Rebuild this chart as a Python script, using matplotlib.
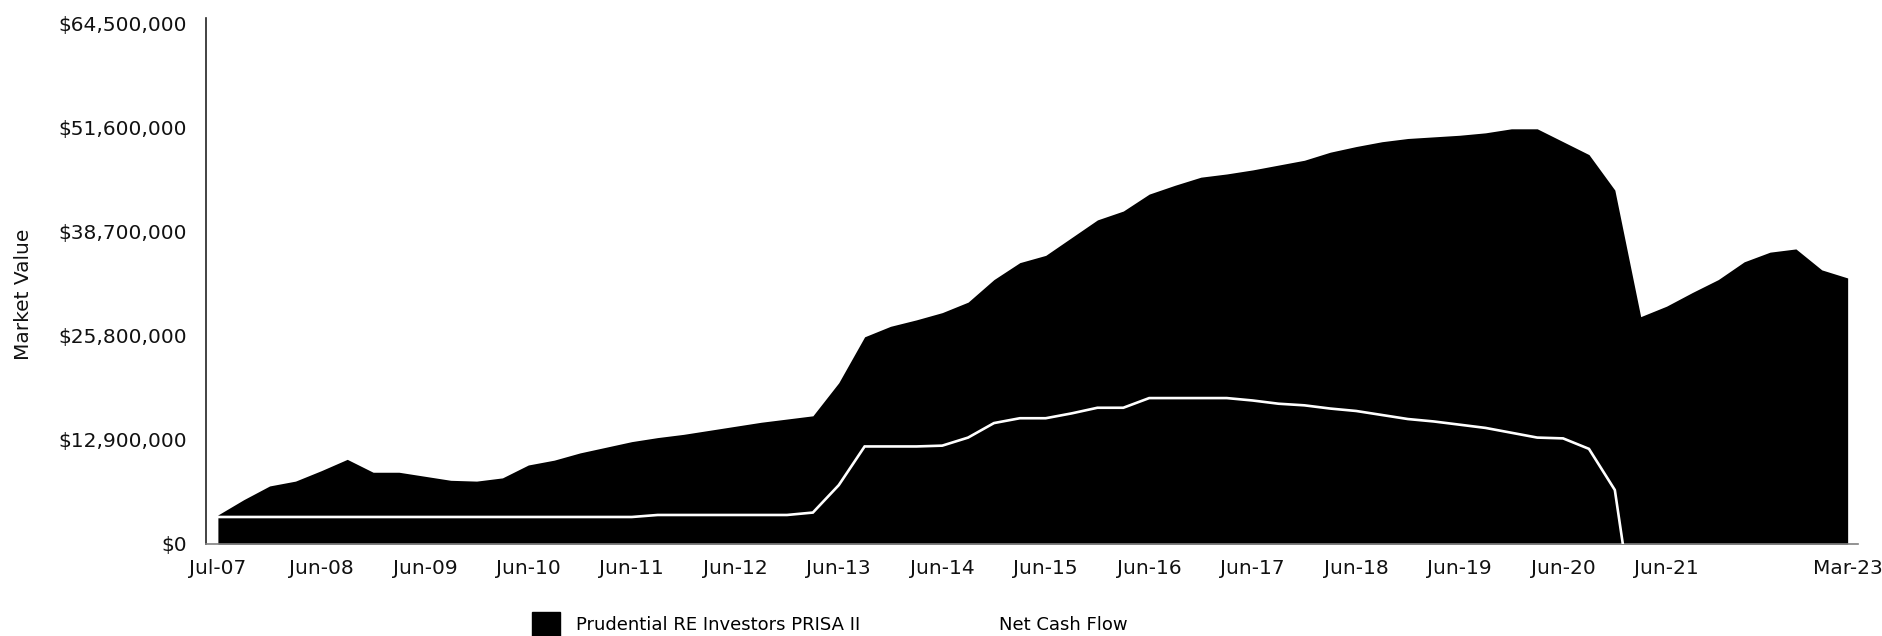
import numpy as np
import matplotlib
matplotlib.use("Agg")
import matplotlib.pyplot as plt
from matplotlib.ticker import FuncFormatter
from matplotlib.patches import Patch
from matplotlib.lines import Line2D

# ---------------- data ----------------
quarter_labels = ["Jul-07"]
for yy in range(7, 24):
    for mm in ["Mar", "Jun", "Sep", "Dec"]:
        if (yy == 7 and mm in ("Mar", "Jun")):
            continue
        if yy == 23 and mm != "Mar":
            continue
        quarter_labels.append(f"{mm}-{yy:02d}")

market_value_m = [
    3.6, 5.5, 7.2, 7.8, 9.1, 10.5, 8.9, 8.9, 8.4, 7.9,
    7.8, 8.2, 9.8, 10.4, 11.3, 12.0, 12.7, 13.2, 13.6, 14.1,
    14.6, 15.1, 15.5, 15.9, 20.0, 25.7, 27.0, 27.8, 28.7, 30.0,
    32.8, 34.9, 35.8, 38.0, 40.2, 41.3, 43.4, 44.5, 45.5, 45.9,
    46.4, 47.0, 47.6, 48.6, 49.3, 49.9, 50.3, 50.5, 50.7, 51.0,
    51.5, 51.5, 49.9, 48.3, 43.9, 28.2, 29.5, 31.2, 32.8, 35.0,
    36.2, 36.6, 34.0, 33.0,
]

net_cash_flow_m = [
    3.35, 3.35, 3.35, 3.35, 3.35, 3.35, 3.35, 3.35, 3.35, 3.35,
    3.35, 3.35, 3.35, 3.35, 3.35, 3.35, 3.35, 3.6, 3.6, 3.6,
    3.6, 3.6, 3.6, 3.9, 7.3, 12.1, 12.1, 12.1, 12.2, 13.2,
    15.0, 15.6, 15.6, 16.2, 16.9, 16.9, 18.1, 18.1, 18.1, 18.1,
    17.8, 17.4, 17.2, 16.8, 16.5, 16.0, 15.5, 15.2, 14.8, 14.4,
    13.8, 13.2, 13.1, 11.8, 6.7, -15.0,
]

x_tick_labels = ["Jul-07", "Jun-08", "Jun-09", "Jun-10", "Jun-11", "Jun-12",
                 "Jun-13", "Jun-14", "Jun-15", "Jun-16", "Jun-17", "Jun-18",
                 "Jun-19", "Jun-20", "Jun-21", "Mar-23"]
y_tick_values = [0, 12_900_000, 25_800_000, 38_700_000, 51_600_000, 64_500_000]

series_names = ["Prudential RE Investors PRISA II", "Net Cash Flow"]

# ---------------- plot ----------------
plt.rcParams['font.family'] = ['DejaVu Sans']

W, H = 1883, 636
fig = plt.figure(figsize=(W / 100, H / 100), dpi=100)
ax = fig.add_axes([206 / W, 92 / H, 1652 / W, 526 / H])

x = np.arange(len(quarter_labels))
mv = np.array(market_value_m) * 1e6
ncf = np.array(net_cash_flow_m) * 1e6

ax.fill_between(x, mv, 0, color="black", linewidth=0, zorder=2)
ax.plot(x[:len(ncf)], ncf, color="white", linewidth=1.9, zorder=3,
        solid_joinstyle="miter")

ax.set_xlim(-0.46, 63.4)
ax.set_ylim(0, 64_500_000 * 526 / 520)

tick_pos = [quarter_labels.index(l) for l in x_tick_labels]
ax.set_xticks(tick_pos)
ax.set_xticklabels(x_tick_labels)
ax.set_yticks(y_tick_values)
ax.yaxis.set_major_formatter(FuncFormatter(lambda v, p: "${:,.0f}".format(v)))

ax.tick_params(axis="both", length=0, labelsize=14.5, colors="#111111")
ax.tick_params(axis="y", pad=13.5)
ax.tick_params(axis="x", pad=10.5)

for s in ["top", "right"]:
    ax.spines[s].set_visible(False)
ax.spines["left"].set_color("#222222")
ax.spines["left"].set_linewidth(1.2)
ax.spines["bottom"].set_color("#808080")
ax.spines["bottom"].set_linewidth(1.2)

ax.set_ylabel("Market Value", fontsize=14.5, color="#111111")
ax.yaxis.set_label_coords(-0.105, 0.475)

handles = [Patch(facecolor="black", edgecolor="black"),
           Line2D([0], [0], color="white", linewidth=1.9)]
fig.legend(handles, series_names, loc="center left",
           bbox_to_anchor=(532 / W, 12 / H),
           ncol=2, frameon=False, fontsize=13, handlelength=1.55,
           handleheight=1.6, handletextpad=0.9, columnspacing=5.2,
           borderpad=0, borderaxespad=0)

fig.savefig("out.png", dpi=100)
